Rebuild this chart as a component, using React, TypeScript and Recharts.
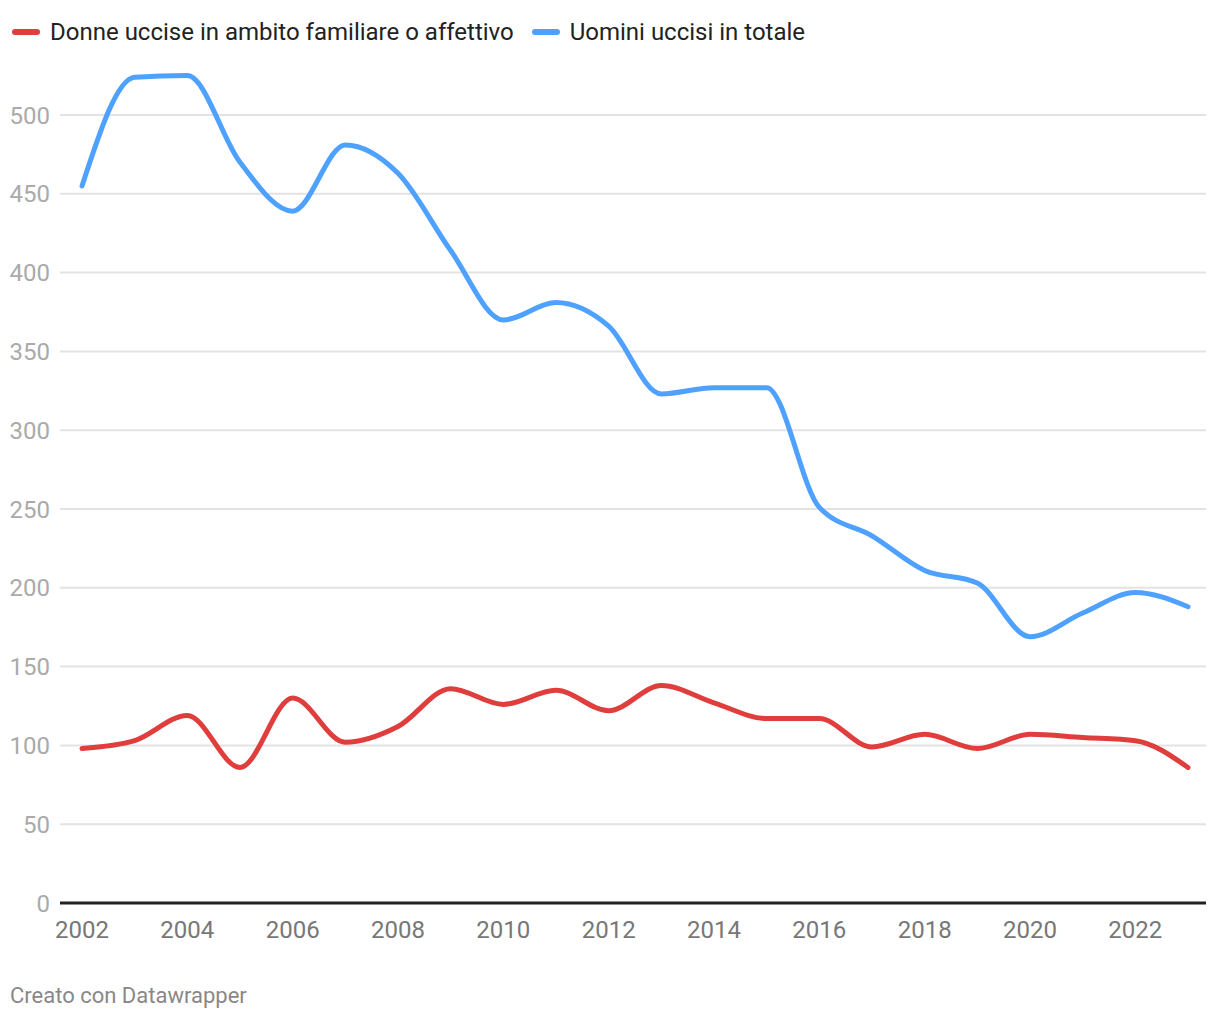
import React from 'react';
import { LineChart, Line, XAxis, YAxis, CartesianGrid } from 'recharts';

const years = [2002, 2003, 2004, 2005, 2006, 2007, 2008, 2009, 2010, 2011, 2012, 2013, 2014, 2015, 2016, 2017, 2018, 2019, 2020, 2021, 2022, 2023];
const donne = [98, 103, 119, 86, 130, 102, 112, 136, 126, 135, 122, 138, 127, 117, 117, 99, 107, 98, 107, 105, 103, 86];
const uomini = [455, 524, 525, 470, 439, 481, 463, 414, 370, 381, 366, 323, 327, 327, 251, 233, 211, 203, 169, 184, 197, 188];
const xTicks = [2002, 2004, 2006, 2008, 2010, 2012, 2014, 2016, 2018, 2020, 2022];
const yTicks = [0, 50, 100, 150, 200, 250, 300, 350, 400, 450, 500];

const RED = '#e03d3d';
const BLUE = '#4fa1ff';
const FONT = 'Roboto, sans-serif';

const data = years.map((year, i) => ({ year, donne: donne[i], uomini: uomini[i] }));

const LegendItem: React.FC<{ color: string; label: string }> = ({ color, label }) => (
  <div style={{ display: 'flex', alignItems: 'center', marginRight: 18 }}>
    <div style={{ width: 28, height: 6, borderRadius: 3, background: color, marginRight: 10 }} />
    <span>{label}</span>
  </div>
);

export default function App() {
  return (
    <div style={{ position: 'absolute', left: 0, top: 0, width: 1220, height: 1020, background: '#fff', fontFamily: FONT }}>
      <div style={{ position: 'absolute', left: 12, top: 16, display: 'flex', fontSize: 24, color: '#222', lineHeight: '32px' }}>
        <LegendItem color={RED} label="Donne uccise in ambito familiare o affettivo" />
        <LegendItem color={BLUE} label="Uomini uccisi in totale" />
      </div>
      <LineChart width={1220} height={1020} data={data} margin={{ top: 67.72, right: 14, bottom: 0, left: 0 }}>
        <CartesianGrid vertical={false} horizontalValues={yTicks} stroke="#e3e3e3" strokeWidth={2} />
        <XAxis
          dataKey="year"
          type="number"
          domain={[2002, 2023]}
          ticks={xTicks}
          height={117}
          padding={{ left: 22, right: 18 }}
          axisLine={{ stroke: '#222', strokeWidth: 3 }}
          tickLine={false}
          tickMargin={12}
          tick={{ fill: '#777', fontSize: 24, fontFamily: FONT }}
        />
        <YAxis
          domain={[0, 530]}
          ticks={yTicks}
          width={60}
          axisLine={false}
          tickLine={false}
          tickMargin={4}
          tick={{ fill: '#aaa', fontSize: 24, fontFamily: FONT }}
        />
        <Line type="monotone" dataKey="uomini" stroke={BLUE} strokeWidth={5} dot={false} isAnimationActive={false} strokeLinecap="round" />
        <Line type="monotone" dataKey="donne" stroke={RED} strokeWidth={5} dot={false} isAnimationActive={false} strokeLinecap="round" />
      </LineChart>
      <div style={{ position: 'absolute', left: 10, top: 983, fontSize: 22, color: '#888' }}>Creato con Datawrapper</div>
    </div>
  );
}
